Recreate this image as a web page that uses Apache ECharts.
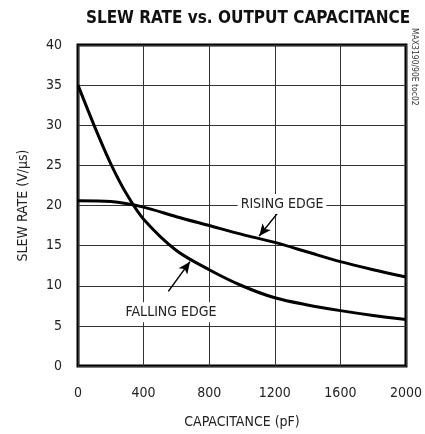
<!DOCTYPE html>
<html>
<head>
<meta charset="utf-8">
<style>
html,body{margin:0;padding:0;background:#fff;}
#chart{width:425px;height:434px;}
</style>
<script src="https://cdn.jsdelivr.net/npm/echarts@6/dist/echarts.min.js"></script>
</head>
<body>
<div id="chart"></div>
<script>
var xTicks = [0, 400, 800, 1200, 1600, 2000];
var yTicks = [0, 5, 10, 15, 20, 25, 30, 35, 40];
var risingEdge = [[0,20.6],[200,20.5],[400,19.8],[600,18.6],[800,17.5],[1000,16.4],[1200,15.4],[1400,14.2],[1600,13.0],[1800,12.0],[2000,11.1]];
var fallingEdge = [[0,35],[100,29.9],[200,25.2],[300,21.3],[400,18.3],[600,14.4],[800,12.0],[1000,10.0],[1200,8.5],[1400,7.6],[1600,6.9],[1800,6.3],[2000,5.8]];
var risingLabel = {text:'RISING EDGE', at:[1244,20.2], arrowFrom:[1227,19.3], arrowTo:[1105,16.2]};
var fallingLabel = {text:'FALLING EDGE', at:[567,6.7], arrowFrom:[551,9.3], arrowTo:[683,13.0]};

var FONT = "'Liberation Sans Narrow','DejaVu Sans Condensed','Arial Narrow',sans-serif";
var chart = echarts.init(document.getElementById('chart'));

function labelPoint(l){
  return {
    coord: l.at, symbol:'rect', symbolSize:[1,1], itemStyle:{color:'rgba(0,0,0,0)'},
    label:{show:true, position:'inside', formatter:l.text, color:'#222', fontFamily:FONT, fontSize:14,
      backgroundColor:'#fff', padding:[3,3,3,3]}
  };
}
function arrow(l){
  return [{coord:l.arrowFrom},{coord:l.arrowTo}];
}

chart.setOption({
  animation:false,
  backgroundColor:'#fff',
  title:{text:'SLEW RATE vs. OUTPUT CAPACITANCE', left:243, textAlign:'center', top:5,
    textStyle:{fontFamily:FONT, fontWeight:'bold', fontSize:17, color:'#111'}},
  grid:{left:78, right:18, top:45, bottom:61, show:true, borderColor:'#000', borderWidth:3, backgroundColor:'transparent'},
  xAxis:{type:'value', min:0, max:2000, interval:400,
    name:'CAPACITANCE (pF)', nameLocation:'middle', nameGap:49,
    nameTextStyle:{fontFamily:FONT, fontSize:14, color:'#222'},
    axisLine:{show:false}, axisTick:{show:false},
    axisLabel:{margin:20, fontFamily:FONT, fontSize:14, color:'#222', formatter:function(v){return xTicks.indexOf(v)>=0?String(v):'';}},
    splitLine:{show:true, lineStyle:{color:'#333', width:1}}},
  yAxis:{type:'value', min:0, max:40, interval:5,
    name:'SLEW RATE (V/µs)', nameLocation:'middle', nameGap:48, nameRotate:90,
    nameTextStyle:{fontFamily:FONT, fontSize:14, color:'#222'},
    axisLine:{show:false}, axisTick:{show:false},
    axisLabel:{margin:16, fontFamily:FONT, fontSize:14, color:'#222', formatter:function(v){return yTicks.indexOf(v)>=0?String(v):'';}},
    splitLine:{show:true, lineStyle:{color:'#333', width:1}}},
  graphic:[{type:'text', left:410, top:28, rotation:-Math.PI/2,
    style:{text:'MAX3190/90E toc02', fontFamily:FONT, fontSize:8.5, fill:'#333'}}],
  series:[
    {name:'RISING EDGE', type:'line', data:risingEdge, smooth:0.3, showSymbol:false, symbol:'none',
      lineStyle:{color:'#000', width:3}, z:3,
      markPoint:{silent:true, data:[labelPoint(risingLabel)]},
      markLine:{silent:true, symbol:['none','arrow'], symbolSize:[8,12], label:{show:false},
        lineStyle:{color:'#000', width:1.5, type:'solid'}, data:[arrow(risingLabel)]}},
    {name:'FALLING EDGE', type:'line', data:fallingEdge, smooth:0.3, showSymbol:false, symbol:'none',
      lineStyle:{color:'#000', width:3}, z:3,
      markPoint:{silent:true, data:[labelPoint(fallingLabel)]},
      markLine:{silent:true, symbol:['none','arrow'], symbolSize:[8,12], label:{show:false},
        lineStyle:{color:'#000', width:1.5, type:'solid'}, data:[arrow(fallingLabel)]}}
  ]
});
</script>
</body>
</html>
